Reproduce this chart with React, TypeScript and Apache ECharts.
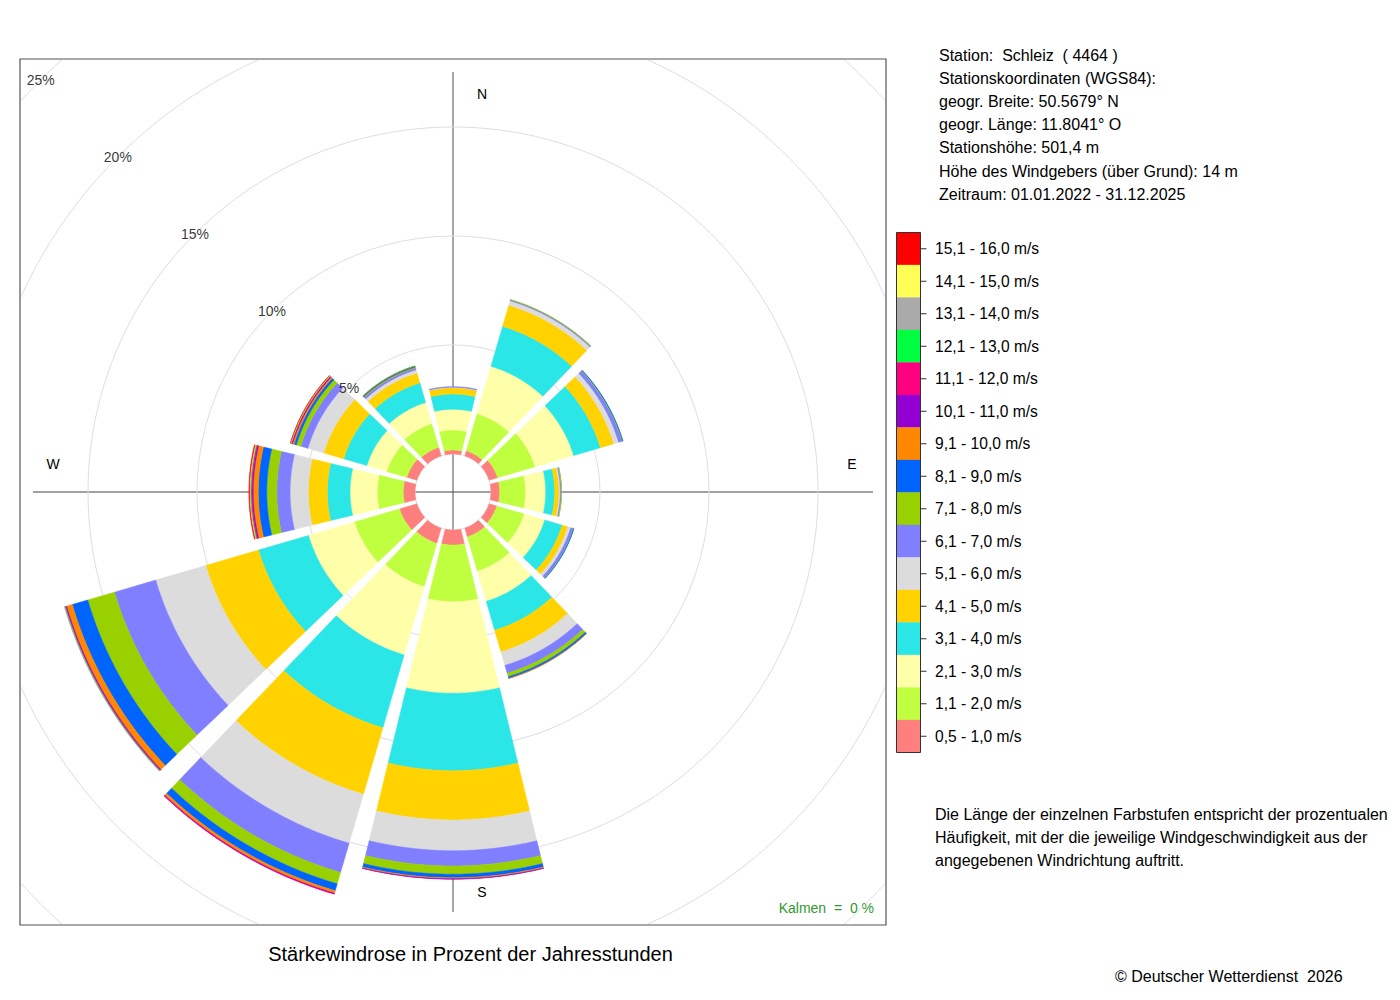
import React, { useEffect, useRef } from "react";
import * as echarts from "echarts";

// ---------- data ----------
// wind directions (degrees, clockwise from north)
const directions = [0, 30, 60, 90, 120, 150, 180, 210, 240, 270, 300, 330];

// speed classes, lowest first
const speedClasses = [
  "0,5 - 1,0 m/s",
  "1,1 - 2,0 m/s",
  "2,1 - 3,0 m/s",
  "3,1 - 4,0 m/s",
  "4,1 - 5,0 m/s",
  "5,1 - 6,0 m/s",
  "6,1 - 7,0 m/s",
  "7,1 - 8,0 m/s",
  "8,1 - 9,0 m/s",
  "9,1 - 10,0 m/s",
  "10,1 - 11,0 m/s",
  "11,1 - 12,0 m/s",
  "12,1 - 13,0 m/s",
  "13,1 - 14,0 m/s",
  "14,1 - 15,0 m/s",
  "15,1 - 16,0 m/s",
];

const classColors = [
  "#FF7F7F",
  "#BFFF3F",
  "#FFFFAA",
  "#2AE6E6",
  "#FFD200",
  "#DCDCDC",
  "#7F7FFF",
  "#99D100",
  "#0064FF",
  "#FF8800",
  "#9400D3",
  "#FF0080",
  "#00FF40",
  "#AAAAAA",
  "#FFFF55",
  "#FF0000",
];

// percentage of hours per direction (N, 30, 60, E, 120, 150, S, 210, 240, W, 300, 330)
const v05_10 = [0.18, 0.25, 0.41, 0.4, 0.37, 0.42, 0.69, 0.73, 0.83, 0.54, 0.48, 0.41];
const v11_20 = [0.92, 1.77, 1.79, 1.19, 1.31, 1.64, 2.6, 2.07, 2.15, 1.19, 0.96, 1.13];
const v21_30 = [0.95, 2.26, 1.84, 0.92, 0.98, 1.44, 4.2, 3.26, 2.2, 1.25, 0.95, 1.01];
const v31_40 = [0.7, 1.91, 1.28, 0.41, 0.83, 1.38, 3.55, 3.48, 2.39, 1.04, 1.11, 0.94];
const v41_50 = [0.29, 1.01, 0.64, 0.2, 0.27, 1.04, 2.26, 3.18, 2.52, 0.87, 0.95, 0.47];
const v51_60 = [0.02, 0.21, 0.23, 0.06, 0.14, 0.64, 1.41, 2.34, 2.39, 0.84, 0.76, 0.15];
const v61_70 = [0.03, 0.05, 0.16, 0.05, 0.12, 0.37, 0.7, 1.4, 1.97, 0.61, 0.34, 0.09];
const v71_80 = [0, 0.01, 0.03, 0.01, 0.02, 0.17, 0.38, 0.54, 1.28, 0.46, 0.21, 0.04];
const v81_90 = [0, 0, 0.02, 0, 0.01, 0.08, 0.16, 0.33, 0.74, 0.39, 0.11, 0.02];
const v91_100 = [0, 0, 0, 0, 0, 0.01, 0.05, 0.12, 0.27, 0.23, 0.07, 0.01];
const v101_110 = [0, 0, 0, 0, 0, 0, 0.02, 0.03, 0.04, 0.05, 0.03, 0.01];
const v111_120 = [0, 0, 0, 0, 0, 0, 0, 0.01, 0.03, 0.05, 0.03, 0.01];
const v121_130 = [0, 0, 0, 0, 0, 0, 0, 0, 0.02, 0.03, 0.02, 0.01];
const v131_140 = [0, 0, 0, 0, 0, 0, 0, 0, 0.01, 0.02, 0.01, 0];
const v141_150 = [0, 0, 0, 0, 0, 0, 0, 0, 0, 0.02, 0.01, 0];
const v151_160 = [0, 0, 0, 0, 0, 0, 0, 0, 0, 0.03, 0.01, 0];

const classValues = [
  v05_10, v11_20, v21_30, v31_40, v41_50, v51_60, v61_70, v71_80,
  v81_90, v91_100, v101_110, v111_120, v121_130, v131_140, v141_150, v151_160,
];

// ring ticks (percent)
const ringTicks = [5, 10, 15, 20, 25];
const tickLabelAngle = 315;

const compassLabels = ["N", "E", "S", "W"];

const stationLines = [
  "Station:  Schleiz  ( 4464 )",
  "Stationskoordinaten (WGS84):",
  "geogr. Breite: 50.5679° N",
  "geogr. Länge: 11.8041° O",
  "Stationshöhe: 501,4 m",
  "Höhe des Windgebers (über Grund): 14 m",
  "Zeitraum: 01.01.2022 - 31.12.2025",
];

const noteLines = [
  "Die Länge der einzelnen Farbstufen entspricht der prozentualen",
  "Häufigkeit, mit der die jeweilige Windgeschwindigkeit aus der",
  "angegebenen Windrichtung auftritt.",
];

const titleText = "Stärkewindrose in Prozent der Jahresstunden";
const calmText = "Kalmen  =  0 %";
const copyrightText = "© Deutscher Wetterdienst  2026";

const FONT = '"Liberation Sans", Arial, Helvetica, sans-serif';

// ---------- helpers ----------
function txt(x: number, y: number, text: string, size: number, opts: any = {}) {
  const align = opts.align || "left";
  return {
    type: "text",
    x,
    y,
    z: opts.z ?? 10,
    silent: true,
    style: {
      text,
      fill: opts.color || "#000",
      font: `${size}px ${FONT}`,
      align,
      verticalAlign: "middle",
      textAlign: align,
      textVerticalAlign: "middle",
    },
  };
}

function buildPlotOption() {
  const n = directions.length;
  const halfStep = Math.PI / n;
  const gapPx = 2.4;
  const gapSlope = 0.045;

  const cum = directions.map(() => 0);
  const barSeries = classValues.map((vals, ci) => {
    const data = directions.map((d, j) => {
      const start = cum[j];
      const end = start + vals[j];
      cum[j] = end;
      return [end, d, start];
    });
    return {
      type: "custom",
      name: speedClasses[ci],
      coordinateSystem: "polar",
      encode: { radius: 0, angle: 1 },
      z: 3,
      silent: true,
      data,
      renderItem: (params: any, api: any) => {
        const cs = params.coordSys;
        const cx = cs.cx;
        const cy = cs.cy;
        const v1 = api.value(0);
        const ang = api.value(1);
        const v0 = api.value(2);
        if (!(v1 - v0 > 0)) return null;
        const p1 = api.coord([v1, ang]);
        const p0 = api.coord([v0, ang]);
        const r1 = Math.hypot(p1[0] - cx, p1[1] - cy);
        const r0 = Math.hypot(p0[0] - cx, p0[1] - cy);
        const theta = Math.atan2(p1[1] - cy, p1[0] - cx);
        const half = (rho: number) =>
          halfStep - Math.asin(Math.min(1, gapPx / (2 * rho) + gapSlope / 2));
        const pts: number[][] = [];
        const steps = 30;
        const a1 = half(r1);
        for (let i = 0; i <= steps; i++) {
          const t = theta - a1 + (2 * a1 * i) / steps;
          pts.push([cx + r1 * Math.cos(t), cy + r1 * Math.sin(t)]);
        }
        const a0 = half(Math.max(r0, 1));
        for (let i = steps; i >= 0; i--) {
          const t = theta - a0 + (2 * a0 * i) / steps;
          pts.push([cx + r0 * Math.cos(t), cy + r0 * Math.sin(t)]);
        }
        return {
          type: "polygon",
          shape: { points: pts },
          style: {
            fill: classColors[ci],
            stroke: classColors[ci],
            lineWidth: 0.5,
          },
        };
      },
    };
  });

  const labelSeries = {
    type: "scatter",
    coordinateSystem: "polar",
    symbolSize: 1,
    silent: true,
    z: 6,
    itemStyle: { color: "rgba(0,0,0,0)" },
    data: ringTicks.map((t) => [t, tickLabelAngle]),
    label: {
      show: true,
      position: "inside",
      formatter: (p: any) => `${p.value[0]}%`,
      color: "#000",
      fontSize: 14,
      fontFamily: FONT,
    },
  };

  const C = 432;
  const axisLen = 420;
  const graphic: any[] = [
    {
      type: "line",
      z: 0,
      silent: true,
      shape: { x1: C, y1: C - axisLen, x2: C, y2: C + axisLen },
      style: { stroke: "#8a8a8a", lineWidth: 1.5 },
    },
    {
      type: "line",
      z: 0,
      silent: true,
      shape: { x1: C - axisLen, y1: C, x2: C + axisLen, y2: C },
      style: { stroke: "#444", lineWidth: 1 },
    },
  ];
  const compassPos = [
    [C + 29, C - 398],
    [C + 399, C - 28],
    [C + 29, C + 400],
    [C - 400, C - 28],
  ];
  compassLabels.forEach((l, i) => {
    graphic.push({ ...txt(compassPos[i][0], compassPos[i][1], l, 14, { align: "center" }) });
  });

  return {
    animation: false,
    polar: { center: ["50%", "50%"], radius: [38, 583] },
    angleAxis: {
      type: "value",
      min: 0,
      max: 360,
      startAngle: 90,
      clockwise: true,
      show: false,
    },
    radiusAxis: {
      type: "value",
      min: 0,
      max: 25,
      interval: 5,
      axisLine: { show: false },
      axisTick: { show: false },
      axisLabel: { show: false },
      splitLine: { show: true, lineStyle: { color: "#dedede", width: 1 } },
    },
    graphic,
    series: [...barSeries, labelSeries],
  };
}

function buildPageOption() {
  const g: any[] = [];
  // frame
  g.push({
    type: "rect",
    z: 1,
    silent: true,
    shape: { x: 20, y: 59, width: 866, height: 866 },
    style: { fill: "none", stroke: "#555", lineWidth: 1.2 },
  });
  // station info
  stationLines.forEach((l, i) => g.push(txt(939, 55 + i * 23.2, l, 16)));
  // legend color bar
  const top = 232.5;
  const h = 32.5;
  const nC = speedClasses.length;
  for (let k = 0; k < nC; k++) {
    const ci = nC - 1 - k;
    g.push({
      type: "rect",
      z: 2,
      silent: true,
      shape: { x: 896.5, y: top + k * h, width: 24, height: h },
      style: { fill: classColors[ci], stroke: classColors[ci], lineWidth: 0.3 },
    });
    const yc = top + k * h + h / 2;
    g.push({
      type: "line",
      z: 3,
      silent: true,
      shape: { x1: 920.5, y1: yc, x2: 926.5, y2: yc },
      style: { stroke: "#333", lineWidth: 1 },
    });
    g.push(txt(935, yc, speedClasses[ci], 15.6));
  }
  g.push({
    type: "rect",
    z: 4,
    silent: true,
    shape: { x: 896.5, y: top, width: 24, height: h * nC },
    style: { fill: "none", stroke: "#333", lineWidth: 1 },
  });
  // note
  noteLines.forEach((l, i) => g.push(txt(935, 814 + i * 23, l, 16)));
  // title
  g.push(txt(470.5, 954, titleText, 20, { align: "center" }));
  // calm
  g.push(txt(874, 908, calmText, 14, { align: "right", color: "#2F9A2F" }));
  // copyright
  g.push(txt(1115, 976, copyrightText, 16));

  return { animation: false, graphic: g };
}

export default function App() {
  const pageRef = useRef<HTMLDivElement>(null);
  const plotRef = useRef<HTMLDivElement>(null);

  useEffect(() => {
    document.body.style.margin = "0";
    const page = echarts.init(pageRef.current!, undefined, { renderer: "svg" });
    page.setOption(buildPageOption() as any);
    const plot = echarts.init(plotRef.current!, undefined, { renderer: "svg" });
    plot.setOption(buildPlotOption() as any);
    return () => {
      plot.dispose();
      page.dispose();
    };
  }, []);

  return (
    <div style={{ position: "relative", width: 1400, height: 1000, background: "#fff" }}>
      <div
        ref={pageRef}
        style={{ position: "absolute", left: 0, top: 0, width: 1400, height: 1000 }}
      />
      <div
        ref={plotRef}
        style={{
          position: "absolute",
          left: 21,
          top: 60,
          width: 864,
          height: 864,
          overflow: "hidden",
        }}
      />
    </div>
  );
}
